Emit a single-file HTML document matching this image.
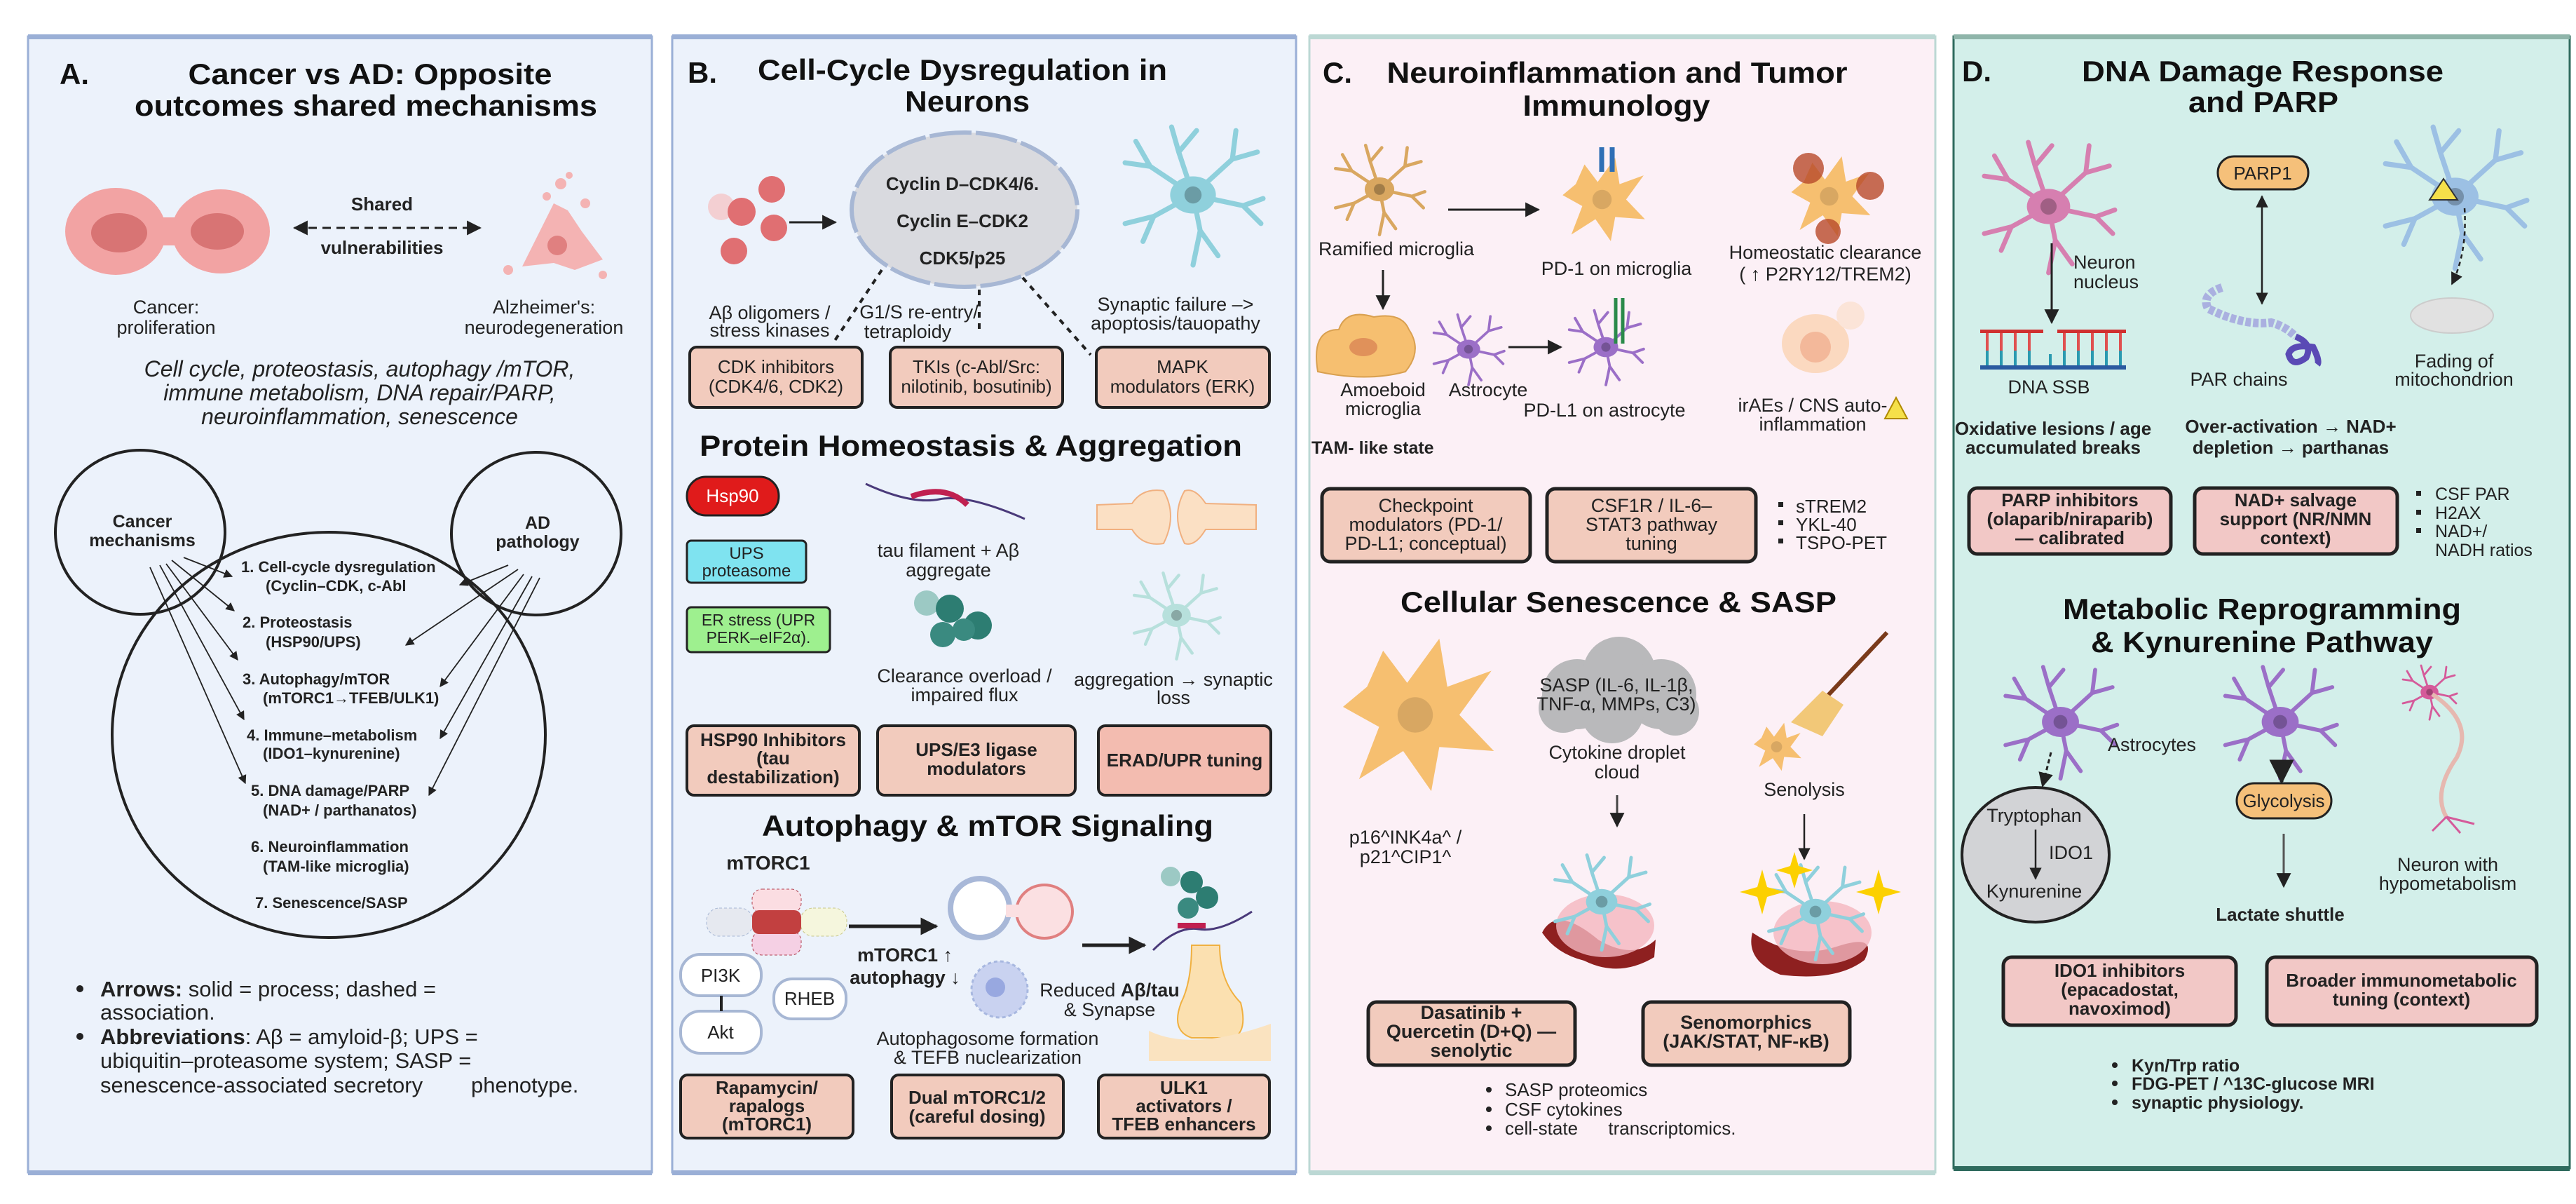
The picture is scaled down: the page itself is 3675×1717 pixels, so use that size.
<!DOCTYPE html>
<html><head><meta charset="utf-8"><style>
html,body{margin:0;padding:0;background:#fff}
svg{display:block}
text{font-family:"Liberation Sans",Arial,sans-serif;fill:#222}
.t{font-size:27px;text-anchor:middle}
.b{font-weight:bold}
.h{font-size:42px;font-weight:bold;text-anchor:middle;fill:#111}
.bx{font-size:26px;text-anchor:middle}
.it{font-style:italic;font-size:32px;text-anchor:middle}
.li{font-size:22px;font-weight:bold}
</style></head><body>
<svg width="3675" height="1717" viewBox="0 0 3675 1717" xmlns="http://www.w3.org/2000/svg">
<defs>
<marker id="ar" viewBox="0 0 10 10" refX="9" refY="5" markerWidth="7" markerHeight="7" orient="auto-start-reverse"><path d="M0,0L10,5L0,10z" fill="#222"/></marker>
<marker id="arb" viewBox="0 0 10 10" refX="9" refY="5" markerWidth="5" markerHeight="5" orient="auto-start-reverse"><path d="M0,0L10,5L0,10z" fill="#222"/></marker>
<symbol id="neu" viewBox="-100 -100 200 200" overflow="visible">
<g stroke="currentColor" stroke-linecap="round" fill="none">
<path d="M0,0L-60,-40L-95,-45M-60,-40L-80,-75M0,0L-20,-60L-30,-95M-20,-60L5,-90M0,0L55,-50L90,-60M55,-50L60,-90M0,0L70,15L98,5M70,15L95,40M0,0L10,50L0,98M10,50L35,85M0,0L-55,30L-95,40M-55,30L-70,65" stroke-width="7"/>
</g>
<ellipse cx="0" cy="0" rx="32" ry="26" fill="currentColor"/>
<circle cx="0" cy="0" r="12" fill="#000" opacity="0.25"/>
</symbol>
<symbol id="blob" viewBox="-100 -100 200 200" overflow="visible">
<path d="M-90,-10L-60,-35L-40,-80L-10,-40L30,-95L40,-35L95,-55L55,0L98,45L30,40L20,95L-15,45L-70,80L-45,15Z" fill="currentColor"/>
<circle cx="0" cy="0" r="22" fill="#000" opacity="0.12"/>
</symbol>
</defs>

<!-- PANELS -->
<rect x="40" y="52" width="890" height="1620" fill="#ecf2fb" stroke="#9aafd6" stroke-width="3"/>
<rect x="40" y="49" width="890" height="7" fill="#9aafd6"/><rect x="40" y="1669" width="890" height="7" fill="#9aafd6"/>
<rect x="959" y="52" width="890" height="1620" fill="#ecf2fb" stroke="#9aafd6" stroke-width="3"/>
<rect x="959" y="49" width="890" height="7" fill="#9aafd6"/><rect x="959" y="1669" width="890" height="7" fill="#9aafd6"/>
<rect x="1868" y="52" width="893" height="1620" fill="#fcf0f6" stroke="#bcd8d4" stroke-width="3"/>
<rect x="1868" y="49" width="893" height="7" fill="#bcd8d4"/><rect x="1868" y="1669" width="893" height="7" fill="#bcd8d4"/>
<rect x="2787" y="52" width="879" height="1614" fill="#d3efea" stroke="#2f6b5e" stroke-width="3"/>
<rect x="2787" y="49" width="879" height="7" fill="#8fb5aa"/><rect x="2787" y="1663" width="879" height="7" fill="#2f6b5e"/>

<!-- ===== PANEL A ===== -->
<text x="85" y="120" class="h" style="text-anchor:start">A.</text>
<text x="528" y="120" class="h" textLength="519" lengthAdjust="spacingAndGlyphs">Cancer vs AD: Opposite</text>
<text x="522" y="165" class="h" textLength="660" lengthAdjust="spacingAndGlyphs">outcomes shared mechanisms</text>
<g fill="#f2a3a3">
<ellipse cx="165" cy="330" rx="72" ry="62"/><ellipse cx="315" cy="330" rx="70" ry="60"/><rect x="200" y="310" width="80" height="40"/>
</g>
<ellipse cx="170" cy="332" rx="40" ry="28" fill="#d87474"/><ellipse cx="310" cy="330" rx="38" ry="26" fill="#d87474"/>
<text x="545" y="300" class="t b" style="font-size:26px">Shared</text>
<line x1="420" y1="325" x2="685" y2="325" stroke="#222" stroke-width="3" stroke-dasharray="12,8" marker-start="url(#ar)" marker-end="url(#ar)"/>
<text x="545" y="362" class="t b" style="font-size:26px">vulnerabilities</text>
<g fill="#f4b3b3">
<path d="M745,380L770,330L790,290L810,300L830,330L860,370L820,385L790,375Z"/>
<circle cx="800" cy="262" r="8"/><circle cx="780" cy="280" r="6"/><circle cx="835" cy="290" r="7"/><circle cx="725" cy="385" r="7"/><circle cx="860" cy="392" r="6"/><circle cx="812" cy="250" r="5"/>
</g><circle cx="795" cy="350" r="14" fill="#e08080"/>
<text x="237" y="447" class="t">Cancer:</text>
<text x="237" y="476" class="t">proliferation</text>
<text x="776" y="447" class="t">Alzheimer's:</text>
<text x="776" y="476" class="t">neurodegeneration</text>
<text x="513" y="537" class="it">Cell cycle, proteostasis, autophagy /mTOR,</text>
<text x="513" y="571" class="it">immune metabolism, DNA repair/PARP,</text>
<text x="513" y="605" class="it">neuroinflammation, senescence</text>
<g fill="none" stroke="#222" stroke-width="4">
<ellipse cx="200" cy="759" rx="121" ry="117"/>
<ellipse cx="765" cy="761" rx="121" ry="116"/>
<ellipse cx="469" cy="1048" rx="309" ry="289"/>
</g>
<text x="203" y="752" class="t b" style="font-size:25px">Cancer</text>
<text x="203" y="779" class="t b" style="font-size:25px">mechanisms</text>
<text x="767" y="754" class="t b" style="font-size:25px">AD</text>
<text x="767" y="781" class="t b" style="font-size:25px">pathology</text>
<g stroke="#222" stroke-width="1.8" marker-end="url(#ar)">
<line x1="262" y1="795" x2="331" y2="822"/><line x1="245" y1="799" x2="334" y2="871"/><line x1="237" y1="804" x2="339" y2="941"/><line x1="228" y1="806" x2="348" y2="1026"/><line x1="214" y1="809" x2="350" y2="1117"/>
<line x1="725" y1="806" x2="656" y2="834"/><line x1="739" y1="812" x2="579" y2="920"/><line x1="747" y1="819" x2="628" y2="979"/><line x1="759" y1="822" x2="628" y2="1053"/><line x1="770" y1="824" x2="612" y2="1134"/>
</g>
<text x="344" y="816" class="li">1.  Cell-cycle dysregulation</text><text x="379" y="843" class="li">(Cyclin–CDK, c-Abl</text>
<text x="346" y="895" class="li">2.  Proteostasis</text><text x="379" y="923" class="li">(HSP90/UPS)</text>
<text x="346" y="976" class="li">3. Autophagy/mTOR</text><text x="375" y="1003" class="li">(mTORC1→TFEB/ULK1)</text>
<text x="352" y="1056" class="li">4. Immune–metabolism</text><text x="375" y="1082" class="li">(IDO1–kynurenine)</text>
<text x="358" y="1135" class="li">5. DNA damage/PARP</text><text x="375" y="1163" class="li">(NAD+ / parthanatos)</text>
<text x="358" y="1215" class="li">6. Neuroinflammation</text><text x="375" y="1243" class="li">(TAM-like microglia)</text>
<text x="364" y="1295" class="li">7. Senescence/SASP</text>
<circle cx="114" cy="1410" r="5" fill="#222"/>
<text x="143" y="1421" style="font-size:31px"><tspan font-weight="bold">Arrows:</tspan> solid = process; dashed =</text>
<text x="143" y="1454" style="font-size:31px">association.</text>
<circle cx="114" cy="1478" r="5" fill="#222"/>
<text x="143" y="1489" style="font-size:31px"><tspan font-weight="bold">Abbreviations</tspan>: Aβ = amyloid-β; UPS =</text>
<text x="143" y="1523" style="font-size:31px">ubiquitin–proteasome system; SASP =</text>
<text x="143" y="1558" style="font-size:31px" xml:space="preserve">senescence-associated secretory        phenotype.</text>

<!-- ===== PANEL B ===== -->
<text x="981" y="118" class="h" style="text-anchor:start">B.</text>
<text x="1373" y="114" class="h" textLength="584" lengthAdjust="spacingAndGlyphs">Cell-Cycle Dysregulation in</text>
<text x="1380" y="159" class="h" textLength="178" lengthAdjust="spacingAndGlyphs">Neurons</text>
<circle cx="1029" cy="295" r="19" fill="#f3cfd2"/><circle cx="1058" cy="302" r="20" fill="#e06f72"/><circle cx="1101" cy="270" r="19" fill="#e06f72"/><circle cx="1104" cy="325" r="19" fill="#e06f72"/><circle cx="1047" cy="358" r="19" fill="#e06f72"/>
<line x1="1126" y1="317" x2="1192" y2="317" stroke="#222" stroke-width="3" marker-end="url(#ar)"/>
<ellipse cx="1376" cy="299" rx="161" ry="110" fill="#d9dadf" stroke="#a7b7d4" stroke-width="6" stroke-dasharray="60,6"/>
<text x="1373" y="271" class="t b" style="font-size:26px">Cyclin D–CDK4/6.</text>
<text x="1373" y="324" class="t b" style="font-size:26px">Cyclin E–CDK2</text>
<text x="1373" y="377" class="t b" style="font-size:26px">CDK5/p25</text>
<use href="#neu" x="1600" y="143" width="204" height="270" color="#8fd0dc"/>
<g stroke="#222" stroke-width="4" stroke-dasharray="8,8" fill="none">
<line x1="1258" y1="385" x2="1188" y2="490"/><line x1="1397" y1="413" x2="1397" y2="476"/><line x1="1459" y1="396" x2="1556" y2="506"/>
</g>
<text x="1098" y="455" class="t">Aβ oligomers /</text><text x="1098" y="480" class="t">stress kinases</text>
<text x="1311" y="454" class="t">G1/S re-entry/</text><text x="1295" y="482" class="t">tetraploidy</text>
<text x="1677" y="443" class="t">Synaptic failure –&gt;</text><text x="1677" y="470" class="t">apoptosis/tauopathy</text>
<g fill="#f2cbbd" stroke="#222" stroke-width="4">
<rect x="984" y="495" width="246" height="86" rx="10"/><rect x="1270" y="495" width="246" height="86" rx="10"/><rect x="1564" y="495" width="247" height="86" rx="10"/>
</g>
<text x="1107" y="532" class="bx">CDK inhibitors</text><text x="1107" y="560" class="bx">(CDK4/6, CDK2)</text>
<text x="1393" y="532" class="bx">TKIs (c-Abl/Src:</text><text x="1393" y="560" class="bx">nilotinib, bosutinib)</text>
<text x="1687" y="532" class="bx">MAPK</text><text x="1687" y="560" class="bx">modulators (ERK)</text>
<text x="1385" y="650" class="h" textLength="774" lengthAdjust="spacingAndGlyphs">Protein Homeostasis &amp; Aggregation</text>
<rect x="980" y="680" width="131" height="55" rx="27" fill="#e01b1b" stroke="#222" stroke-width="3"/>
<text x="1045" y="716" class="bx" style="fill:#fff">Hsp90</text>
<rect x="980" y="771" width="170" height="60" rx="6" fill="#7fe3f0" stroke="#222" stroke-width="3"/>
<text x="1065" y="797" class="bx" style="font-size:24px">UPS</text><text x="1065" y="822" class="bx" style="font-size:24px">proteasome</text>
<rect x="980" y="866" width="204" height="64" rx="6" fill="#9ef08f" stroke="#222" stroke-width="3"/>
<text x="1082" y="892" class="bx" style="font-size:23px">ER stress (UPR</text><text x="1082" y="917" class="bx" style="font-size:23px">PERK–eIF2α).</text>
<path d="M1235,690Q1300,720 1340,712T1462,740" stroke="#4a3a7a" stroke-width="3" fill="none"/>
<path d="M1300,708Q1350,690 1380,720" stroke="#c02050" stroke-width="8" fill="none"/>
<text x="1353" y="794" class="t">tau filament + Aβ</text><text x="1353" y="822" class="t">aggregate</text>
<circle cx="1322" cy="860" r="18" fill="#9cc9c4"/><circle cx="1355" cy="868" r="20" fill="#2d7d72"/><circle cx="1395" cy="892" r="20" fill="#2d7d72"/><circle cx="1345" cy="905" r="18" fill="#3a8a80"/><circle cx="1375" cy="898" r="16" fill="#3a8a80"/>
<text x="1376" y="973" class="t">Clearance overload /</text><text x="1376" y="1000" class="t">impaired flux</text>
<path d="M1565,720L1615,718Q1630,695 1660,700Q1680,735 1660,775Q1630,780 1615,755L1565,755Z" fill="#fbe0c4" stroke="#f0b080" stroke-width="2"/>
<path d="M1792,720L1720,718Q1705,695 1690,700Q1670,735 1690,775Q1705,780 1720,755L1792,755Z" fill="#fbe0c4" stroke="#f0b080" stroke-width="2"/>
<use href="#neu" x="1600" y="814" width="157" height="127" color="#b7e0dc"/>
<text x="1674" y="978" class="t">aggregation → synaptic</text><text x="1674" y="1004" class="t">loss</text>
<g fill="#f2cbbd" stroke="#222" stroke-width="4">
<rect x="980" y="1035" width="246" height="99" rx="10"/><rect x="1252" y="1035" width="282" height="99" rx="10"/><rect x="1567" y="1035" width="246" height="99" rx="10" fill="#f3bcb0"/>
</g>
<text x="1103" y="1064" class="bx b">HSP90 Inhibitors</text><text x="1103" y="1090" class="bx b">(tau</text><text x="1103" y="1117" class="bx b">destabilization)</text>
<text x="1393" y="1078" class="bx b">UPS/E3 ligase</text><text x="1393" y="1105" class="bx b">modulators</text>
<text x="1690" y="1093" class="bx b">ERAD/UPR tuning</text>
<text x="1409" y="1192" class="h" textLength="644" lengthAdjust="spacingAndGlyphs">Autophagy &amp; mTOR Signaling</text>
<text x="1096" y="1240" class="t b" style="font-size:28px">mTORC1</text>
<rect x="1008" y="1295" width="66" height="40" rx="18" fill="#e6e9f0" stroke="#a7b7d4" stroke-dasharray="4,3"/>
<rect x="1142" y="1295" width="66" height="40" rx="18" fill="#f5f6dd" stroke="#c8c88a" stroke-dasharray="4,3"/>
<rect x="1073" y="1268" width="70" height="34" rx="14" fill="#fbdde2" stroke="#b04050" stroke-dasharray="4,3"/>
<rect x="1073" y="1328" width="70" height="34" rx="14" fill="#f5d0e4" stroke="#b04050" stroke-dasharray="4,3"/>
<rect x="1073" y="1298" width="70" height="34" rx="10" fill="#c24040"/>
<line x1="1211" y1="1321" x2="1336" y2="1321" stroke="#222" stroke-width="5" marker-end="url(#arb)"/>
<rect x="971" y="1361" width="115" height="59" rx="28" fill="#fff" stroke="#a7b7d4" stroke-width="4"/>
<rect x="971" y="1442" width="115" height="60" rx="28" fill="#fff" stroke="#a7b7d4" stroke-width="4"/>
<line x1="1029" y1="1420" x2="1029" y2="1442" stroke="#222" stroke-width="4"/>
<rect x="1104" y="1396" width="103" height="57" rx="26" fill="#fff" stroke="#a7b7d4" stroke-width="4"/>
<text x="1028" y="1400" class="bx">PI3K</text><text x="1028" y="1481" class="bx">Akt</text><text x="1155" y="1433" class="bx">RHEB</text>
<text x="1291" y="1371" class="t b">mTORC1 ↑</text><text x="1291" y="1403" class="t b">autophagy ↓</text>
<ellipse cx="1398" cy="1295" rx="42" ry="42" fill="#fff" stroke="#a8b8d8" stroke-width="8"/>
<ellipse cx="1490" cy="1300" rx="40" ry="38" fill="#fbe0e2" stroke="#e08080" stroke-width="4"/>
<rect x="1435" y="1290" width="20" height="18" fill="#fbe0e2"/>
<circle cx="1426" cy="1411" r="40" fill="#c9d2f0" stroke="#a8b8e0" stroke-width="3" stroke-dasharray="5,4"/><circle cx="1420" cy="1408" r="14" fill="#98a8e0"/>
<line x1="1544" y1="1348" x2="1633" y2="1348" stroke="#222" stroke-width="5" marker-end="url(#arb)"/>
<circle cx="1670" cy="1250" r="14" fill="#9cc9c4"/><circle cx="1700" cy="1258" r="16" fill="#2d7d72"/><circle cx="1722" cy="1280" r="16" fill="#2d7d72"/><circle cx="1695" cy="1295" r="15" fill="#3a8a80"/>
<path d="M1645,1355Q1680,1320 1710,1325T1786,1300" stroke="#4a3a7a" stroke-width="3" fill="none"/>
<rect x="1680" y="1316" width="40" height="8" fill="#c02050"/>
<path d="M1700,1348L1740,1348Q1740,1400 1770,1430Q1780,1470 1760,1480L1700,1480Q1670,1470 1685,1430Q1700,1400 1700,1348Z" fill="#fbe0b0" stroke="#f0b040" stroke-width="2"/>
<path d="M1639,1470Q1700,1500 1813,1460L1813,1513L1639,1513Z" fill="#fae3c0"/>
<text x="1583" y="1421" class="t">Reduced <tspan font-weight="bold">Aβ/tau</tspan></text><text x="1583" y="1449" class="t">&amp; Synapse</text>
<text x="1409" y="1490" class="t">Autophagosome formation</text><text x="1409" y="1517" class="t">&amp; TEFB nuclearization</text>
<g fill="#f2cbbd" stroke="#222" stroke-width="4">
<rect x="971" y="1533" width="246" height="90" rx="10"/><rect x="1272" y="1533" width="245" height="90" rx="10"/><rect x="1567" y="1533" width="244" height="90" rx="10"/>
</g>
<text x="1094" y="1560" class="bx b">Rapamycin/</text><text x="1094" y="1586" class="bx b">rapalogs</text><text x="1094" y="1612" class="bx b">(mTORC1)</text>
<text x="1394" y="1574" class="bx b">Dual mTORC1/2</text><text x="1394" y="1601" class="bx b">(careful dosing)</text>
<text x="1689" y="1560" class="bx b">ULK1</text><text x="1689" y="1586" class="bx b">activators /</text><text x="1689" y="1612" class="bx b">TFEB enhancers</text>

<!-- ===== PANEL C ===== -->
<text x="1887" y="118" class="h" style="text-anchor:start">C.</text>
<text x="2307" y="118" class="h" textLength="657" lengthAdjust="spacingAndGlyphs">Neuroinflammation and Tumor</text>
<text x="2306" y="165" class="h" textLength="267" lengthAdjust="spacingAndGlyphs">Immunology</text>
<use href="#neu" x="1881" y="204" width="174" height="132" color="#d9a760"/>
<text x="1992" y="364" class="t">Ramified microglia</text>
<line x1="2066" y1="299" x2="2195" y2="299" stroke="#222" stroke-width="3" marker-end="url(#ar)"/>
<use href="#blob" x="2206" y="222" width="159" height="125" color="#f6bf70"/>
<path d="M2285,210L2285,245M2300,210L2300,245" stroke="#2f6fb5" stroke-width="7"/>
<text x="2306" y="392" class="t">PD-1 on microglia</text>
<use href="#blob" x="2530" y="220" width="159" height="120" color="#f6bf70"/>
<circle cx="2580" cy="240" r="22" fill="#b84a2a" opacity="0.8"/><circle cx="2668" cy="265" r="20" fill="#b84a2a" opacity="0.8"/><circle cx="2608" cy="330" r="18" fill="#b84a2a" opacity="0.8"/>
<text x="2604" y="369" class="t">Homeostatic clearance</text><text x="2604" y="400" class="t">( ↑ P2RY12/TREM2)</text>
<line x1="1973" y1="385" x2="1973" y2="440" stroke="#222" stroke-width="3" marker-end="url(#ar)"/>
<path d="M1880,530Q1870,470 1910,470Q1920,440 1960,452Q2000,445 2010,470Q2030,500 2005,530Q1950,545 1880,530Z" fill="#f6bf70" stroke="#d9a050" stroke-width="2"/>
<ellipse cx="1945" cy="495" rx="20" ry="13" fill="#e0915a"/>
<text x="1973" y="565" class="t">Amoeboid</text><text x="1973" y="592" class="t">microglia</text>
<use href="#neu" x="2023" y="446" width="144" height="104" color="#9b6fc7"/>
<text x="2123" y="565" class="t">Astrocyte</text>
<line x1="2152" y1="495" x2="2227" y2="495" stroke="#222" stroke-width="3" marker-end="url(#ar)"/>
<use href="#neu" x="2232" y="440" width="118" height="110" color="#9b6fc7"/>
<path d="M2305,425L2305,490M2315,425L2315,490" stroke="#2a8a4a" stroke-width="5"/>
<text x="2289" y="594" class="t">PD-L1 on astrocyte</text>
<ellipse cx="2590" cy="490" rx="48" ry="42" fill="#fbd9c0"/><circle cx="2590" cy="495" r="22" fill="#f3b89a"/>
<circle cx="2640" cy="450" r="20" fill="#fbe4d8"/>
<text x="2586" y="587" class="t">irAEs / CNS auto-</text><text x="2586" y="614" class="t">inflammation</text>
<path d="M2705,567L2721,597L2689,597Z" fill="#f5e04a" stroke="#b08a00" stroke-width="2"/>
<text x="1871" y="647" class="t b" style="text-anchor:start;font-size:25px">TAM- like state</text>
<g fill="#f2cbbd" stroke="#222" stroke-width="5">
<rect x="1886" y="697" width="297" height="104" rx="12"/><rect x="2207" y="697" width="298" height="104" rx="12"/>
</g>
<text x="2034" y="730" class="bx" style="font-size:27px">Checkpoint</text><text x="2034" y="757" class="bx" style="font-size:27px">modulators (PD-1/</text><text x="2034" y="784" class="bx" style="font-size:27px">PD-L1; conceptual)</text>
<text x="2356" y="730" class="bx" style="font-size:27px">CSF1R / IL-6–</text><text x="2356" y="757" class="bx" style="font-size:27px">STAT3 pathway</text><text x="2356" y="784" class="bx" style="font-size:27px">tuning</text>
<rect x="2537" y="716" width="7" height="7" fill="#222"/><rect x="2537" y="742" width="7" height="7" fill="#222"/><rect x="2537" y="768" width="7" height="7" fill="#222"/>
<text x="2562" y="731" style="font-size:26px">sTREM2</text><text x="2562" y="757" style="font-size:26px">YKL-40</text><text x="2562" y="783" style="font-size:26px">TSPO-PET</text>
<text x="2309" y="873" class="h" textLength="622" lengthAdjust="spacingAndGlyphs">Cellular Senescence &amp; SASP</text>
<use href="#blob" x="1886" y="905" width="266" height="229" color="#f6bf70"/>
<text x="2005" y="1203" class="t">p16^INK4a^ /</text><text x="2005" y="1231" class="t">p21^CIP1^</text>
<g fill="#b9b9bb"><circle cx="2250" cy="990" r="50"/><circle cx="2310" cy="960" r="52"/><circle cx="2370" cy="990" r="50"/><circle cx="2300" cy="1015" r="45"/><circle cx="2230" cy="1010" r="35"/><circle cx="2390" cy="1015" r="34"/></g>
<text x="2306" y="986" class="t">SASP (IL-6, IL-1β,</text><text x="2306" y="1013" class="t">TNF-α, MMPs, C3)</text>
<text x="2307" y="1082" class="t">Cytokine droplet</text><text x="2307" y="1110" class="t">cloud</text>
<line x1="2307" y1="1134" x2="2307" y2="1178" stroke="#444" stroke-width="3" marker-end="url(#ar)"/>
<path d="M2200,1330Q2220,1290 2280,1340Q2330,1370 2362,1340L2360,1365Q2310,1395 2260,1370Q2220,1360 2200,1330Z" fill="#8e2020"/>
<ellipse cx="2290" cy="1320" rx="70" ry="45" fill="#f4b7bf" opacity="0.8"/>
<use href="#neu" x="2215" y="1216" width="140" height="140" color="#8fd0dc"/>
<line x1="2600" y1="1000" x2="2692" y2="902" stroke="#7a3a1a" stroke-width="6"/>
<path d="M2600,985L2630,1005L2600,1050L2555,1030Z" fill="#f2c878"/>
<use href="#blob" x="2480" y="1029" width="109" height="72" color="#f6bf70"/>
<text x="2574" y="1135" class="t">Senolysis</text>
<line x1="2574" y1="1161" x2="2574" y2="1225" stroke="#222" stroke-width="2.5" marker-end="url(#ar)"/>
<path d="M2660,1369Q2680,1330 2620,1350Q2560,1370 2500,1330Q2490,1370 2540,1390Q2620,1400 2660,1369Z" fill="#8e2020"/>
<ellipse cx="2600" cy="1330" rx="70" ry="45" fill="#f4b7bf" opacity="0.8"/>
<use href="#neu" x="2520" y="1230" width="140" height="140" color="#8fd0dc"/>
<g fill="#fcd000"><path d="M2560,1215L2566,1235L2586,1241L2566,1247L2560,1267L2554,1247L2534,1241L2554,1235Z"/><path d="M2494,1240L2501,1265L2526,1272L2501,1279L2494,1304L2487,1279L2462,1272L2487,1265Z" transform="translate(20,0)"/><path d="M2680,1240L2687,1265L2712,1272L2687,1279L2680,1304L2673,1279L2648,1272L2673,1265Z"/></g>
<g fill="#f2cbbd" stroke="#222" stroke-width="5">
<rect x="1952" y="1429" width="295" height="90" rx="12"/><rect x="2344" y="1429" width="295" height="90" rx="12"/>
</g>
<text x="2099" y="1453" class="bx b" style="font-size:27px">Dasatinib +</text><text x="2099" y="1480" class="bx b" style="font-size:27px">Quercetin (D+Q) —</text><text x="2099" y="1507" class="bx b" style="font-size:27px">senolytic</text>
<text x="2491" y="1467" class="bx b" style="font-size:27px">Senomorphics</text><text x="2491" y="1494" class="bx b" style="font-size:27px">(JAK/STAT, NF-κB)</text>
<circle cx="2124" cy="1554" r="4" fill="#222"/><circle cx="2124" cy="1582" r="4" fill="#222"/><circle cx="2124" cy="1609" r="4" fill="#222"/>
<text x="2147" y="1563" style="font-size:26px">SASP proteomics</text><text x="2147" y="1591" style="font-size:26px">CSF cytokines</text><text x="2147" y="1618" style="font-size:26px" xml:space="preserve">cell-state      transcriptomics.</text>

<!-- ===== PANEL D ===== -->
<text x="2799" y="116" class="h" style="text-anchor:start">D.</text>
<text x="3228" y="116" class="h" textLength="516" lengthAdjust="spacingAndGlyphs">DNA Damage Response</text>
<text x="3229" y="160" class="h" textLength="214" lengthAdjust="spacingAndGlyphs">and PARP</text>
<use href="#neu" x="2825" y="198" width="195" height="193" color="#d67fb0"/>
<line x1="2927" y1="347" x2="2927" y2="460" stroke="#222" stroke-width="3" marker-end="url(#ar)"/>
<text x="2958" y="383" class="t" style="text-anchor:start">Neuron</text><text x="2958" y="411" class="t" style="text-anchor:start">nucleus</text>
<rect x="2825" y="470" width="90" height="5" fill="#d03030"/><rect x="2935" y="470" width="98" height="5" fill="#d03030"/>
<rect x="2825" y="521" width="208" height="6" fill="#2a5aa0"/>
<g stroke-width="4"><path d="M2835,475V500M2855,475V500M2875,475V500M2895,475V500M2945,475V500M2965,475V500M2985,475V500M3005,475V500M3025,475V500" stroke="#e05050"/><path d="M2835,500V521M2855,500V521M2875,500V521M2895,500V521M2925,505V521M2945,500V521M2965,500V521M2985,500V521M3005,500V521M3025,500V521" stroke="#2a9ab0"/></g>
<text x="2923" y="561" class="t">DNA SSB</text>
<text x="2929" y="620" class="t b" style="font-size:26px">Oxidative lesions / age</text><text x="2929" y="647" class="t b" style="font-size:26px">accumulated breaks</text>
<rect x="3164" y="223" width="129" height="47" rx="23" fill="#f5c07a" stroke="#222" stroke-width="3"/>
<text x="3228" y="256" class="bx">PARP1</text>
<line x1="3227" y1="280" x2="3227" y2="433" stroke="#222" stroke-width="2.5" marker-start="url(#ar)" marker-end="url(#ar)"/>
<path d="M3170,410Q3140,420 3150,440Q3200,465 3240,460Q3260,465 3275,480" stroke="#aab0e0" stroke-width="12" stroke-dasharray="8,3" fill="none"/>
<path d="M3275,480Q3300,490 3290,510Q3270,525 3265,505Q3270,490 3300,495Q3310,515 3306,520" stroke="#5a4ab5" stroke-width="9" fill="none"/>
<text x="3194" y="550" class="t">PAR chains</text>
<text x="3268" y="617" class="t b" style="font-size:26px">Over-activation  → NAD+</text><text x="3268" y="647" class="t b" style="font-size:26px">depletion → parthanas</text>
<use href="#neu" x="3389" y="176" width="227" height="209" color="#9cc0e4"/>
<path d="M3486,255L3506,285L3466,285Z" fill="#f5e04a" stroke="#333" stroke-width="2"/>
<path d="M3516,297Q3520,360 3498,405" stroke="#222" stroke-width="2.5" stroke-dasharray="6,5" fill="none" marker-end="url(#ar)"/>
<ellipse cx="3498" cy="450" rx="59" ry="25" fill="#e1e1e1" stroke="#ccc" stroke-width="2"/>
<text x="3501" y="524" class="t">Fading of</text><text x="3501" y="550" class="t">mitochondrion</text>
<g fill="#f2c8c6" stroke="#222" stroke-width="5">
<rect x="2809" y="696" width="288" height="94" rx="12"/><rect x="3131" y="696" width="289" height="94" rx="12"/>
</g>
<text x="2953" y="722" class="bx b">PARP inhibitors</text><text x="2953" y="749" class="bx b">(olaparib/niraparib)</text><text x="2953" y="776" class="bx b">— calibrated</text>
<text x="3275" y="722" class="bx b">NAD+ salvage</text><text x="3275" y="749" class="bx b">support (NR/NMN</text><text x="3275" y="776" class="bx b">context)</text>
<rect x="3447" y="700" width="7" height="7" fill="#222"/><rect x="3447" y="727" width="7" height="7" fill="#222"/><rect x="3447" y="753" width="7" height="7" fill="#222"/>
<text x="3474" y="713" style="font-size:25px">CSF PAR</text><text x="3474" y="740" style="font-size:25px">H2AX</text><text x="3474" y="766" style="font-size:25px">NAD+/</text><text x="3474" y="793" style="font-size:25px">NADH ratios</text>
<text x="3227" y="883" class="h" textLength="568" lengthAdjust="spacingAndGlyphs">Metabolic Reprogramming</text>
<text x="3227" y="930" class="h" textLength="488" lengthAdjust="spacingAndGlyphs">&amp; Kynurenine Pathway</text>
<use href="#neu" x="2835" y="947" width="209" height="165" color="#9b6fc7"/>
<text x="3070" y="1071" class="t">Astrocytes</text>
<path d="M2926,1073L2914,1121" stroke="#222" stroke-width="3" stroke-dasharray="6,4" marker-end="url(#ar)"/>
<ellipse cx="2904" cy="1219" rx="105" ry="96" fill="#d2d3d6" stroke="#222" stroke-width="4"/>
<text x="2902" y="1172" class="t">Tryptophan</text>
<line x1="2904" y1="1183" x2="2904" y2="1253" stroke="#222" stroke-width="2.5" marker-end="url(#ar)"/>
<text x="2923" y="1225" class="t" style="text-anchor:start">IDO1</text>
<text x="2902" y="1280" class="t">Kynurenine</text>
<use href="#neu" x="3150" y="947" width="206" height="165" color="#9b6fc7"/>
<line x1="3255" y1="1084" x2="3255" y2="1115" stroke="#222" stroke-width="5" marker-end="url(#ar)"/>
<rect x="3191" y="1117" width="135" height="50" rx="25" fill="#f5c07a" stroke="#222" stroke-width="3"/>
<text x="3258" y="1151" class="bx">Glycolysis</text>
<line x1="3258" y1="1189" x2="3258" y2="1264" stroke="#555" stroke-width="3" marker-end="url(#ar)"/>
<text x="3253" y="1313" class="t b" style="font-size:26px">Lactate shuttle</text>
<use href="#neu" x="3421" y="947" width="90" height="80" color="#d55a9a"/>
<path d="M3470,990Q3530,1030 3505,1080Q3470,1130 3490,1165" stroke="#e6b8b0" stroke-width="6" fill="none"/>
<path d="M3490,1165L3470,1185M3490,1165L3510,1188M3490,1165L3530,1175" stroke="#d55a9a" stroke-width="3"/>
<text x="3492" y="1242" class="t">Neuron with</text><text x="3492" y="1269" class="t">hypometabolism</text>
<g fill="#f2c8c6" stroke="#222" stroke-width="5">
<rect x="2858" y="1365" width="332" height="97" rx="12"/><rect x="3234" y="1365" width="385" height="97" rx="12"/>
</g>
<text x="3024" y="1393" class="bx b">IDO1 inhibitors</text><text x="3024" y="1420" class="bx b">(epacadostat,</text><text x="3024" y="1447" class="bx b">navoximod)</text>
<text x="3426" y="1407" class="bx b">Broader immunometabolic</text><text x="3426" y="1434" class="bx b">tuning (context)</text>
<circle cx="3017" cy="1519" r="4" fill="#222"/><circle cx="3017" cy="1545" r="4" fill="#222"/><circle cx="3017" cy="1572" r="4" fill="#222"/>
<text x="3041" y="1528" style="font-size:25px;font-weight:bold">Kyn/Trp ratio</text><text x="3041" y="1554" style="font-size:25px;font-weight:bold">FDG-PET / ^13C-glucose MRI</text><text x="3041" y="1581" style="font-size:25px;font-weight:bold">synaptic physiology.</text>
</svg>
</body></html>
